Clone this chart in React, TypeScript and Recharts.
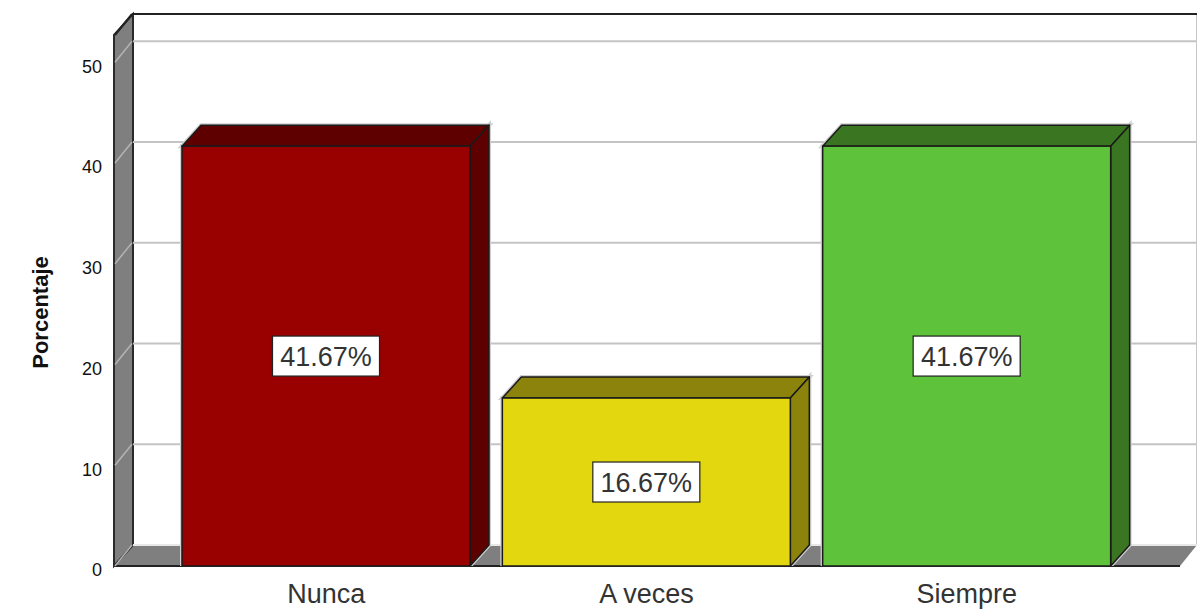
import { BarChart, Bar, XAxis, YAxis, CartesianGrid, ReferenceArea } from "recharts"

const categories = ["Nunca", "A veces", "Siempre"]
const percentages = [41.67, 16.67, 41.67]
const yTicks = [0, 10, 20, 30, 40, 50]
const yMax = 52.7

const frontColors = ["#990000", "#e3d70f", "#5fc23b"]
const darkColors = ["#5e0000", "#8b830b", "#3a7522"]

const data = categories.map((name, i) => ({ name, value: percentages[i] }))

// depth of the fake 3D effect
const DX = 19
const DY = 21
const PAD_L = 52
const PAD_R = 53
const FONT = "'Liberation Sans', Arial, sans-serif"

function Walls(props: any) {
  const { x, y, width, height } = props
  // reference area spans the category range only, add back the axis padding
  const l = x - PAD_L
  const r = x + width + PAD_R
  const t = y
  const b = y + height
  return (
    <g>
      <rect x={l + DX} y={t - DY} width={r - l - 2} height={b - t} fill="#ffffff" stroke="none" />
      <line x1={r + DX - 2} y1={t - DY} x2={r + DX - 2} y2={b - DY} stroke="#c8c8c8" strokeWidth={2} />
      <polygon
        points={`${l},${b} ${l + DX},${b - DY} ${r + DX - 2},${b - DY} ${r},${b}`}
        fill="#7f7f7f"
        stroke="none"
      />
      <line x1={l} y1={b} x2={r} y2={b} stroke="#222" strokeWidth={2} />
      <polygon
        points={`${l},${b} ${l},${t} ${l + DX},${t - DY} ${l + DX},${b - DY}`}
        fill="#7f7f7f"
        stroke="#2a2a2a"
        strokeWidth={2}
      />
    </g>
  )
}

function GridLine(props: any) {
  const { x1, y1, x2 } = props
  const isTop = props.y !== undefined && Math.abs(y1 - props.y) < 1
  const isBottom = props.y !== undefined && props.height !== undefined && Math.abs(y1 - (props.y + props.height)) < 1
  return (
    <g key={props.key}>
      <line
        x1={x1 + DX - (isTop ? 1 : 0)}
        y1={y1 - DY}
        x2={x2 + DX - (isTop ? 0 : 2)}
        y2={y1 - DY}
        stroke={isTop ? "#222" : isBottom ? "#e8e8e8" : "#c4c4c4"}
        strokeWidth={2}
      />
      <line
        x1={x1 + 1}
        y1={y1}
        x2={x1 + DX - 1}
        y2={y1 - DY}
        stroke={isTop ? "#222" : "#b4b4b4"}
        strokeWidth={isTop ? 2 : 1.5}
      />
    </g>
  )
}

function Bar3D(props: any) {
  const { x, y, width, height, index } = props
  const front = frontColors[index % frontColors.length]
  const dark = darkColors[index % darkColors.length]
  const b = y + height
  const top = `${x},${y} ${x + DX},${y - DY} ${x + width + DX},${y - DY} ${x + width},${y}`
  const side = `${x + width},${y} ${x + width + DX},${y - DY} ${x + width + DX},${b - DY} ${x + width},${b}`
  return (
    <g>
      <polygon points={top} fill="none" stroke="#cfcfcf" strokeWidth={4} />
      <polygon points={side} fill="none" stroke="#cfcfcf" strokeWidth={4} />
      <rect x={x} y={y} width={width} height={height} fill="none" stroke="#cfcfcf" strokeWidth={4} />
      <polygon points={top} fill={dark} stroke="#1a1a1a" strokeWidth={1.5} strokeLinejoin="round" />
      <polygon points={side} fill={dark} stroke="#1a1a1a" strokeWidth={1.5} strokeLinejoin="round" />
      <rect x={x} y={y} width={width} height={height} fill={front} stroke="#1a1a1a" strokeWidth={1.5} />
    </g>
  )
}

function ValueLabel(props: any) {
  const { x, y, width, height, value } = props
  const cx = x + width / 2
  const cy = y + height / 2
  const boxW = 107
  const boxH = 40
  return (
    <g>
      <rect x={cx - boxW / 2} y={cy - boxH / 2} width={boxW} height={boxH} fill="#ffffff" stroke="#222" strokeWidth={1.2} />
      <text x={cx} y={cy + 10} textAnchor="middle" fontSize={27} fontFamily={FONT} fill="#333">
        {`${Number(value).toFixed(2)}%`}
      </text>
    </g>
  )
}

function AxisTitle(props: any) {
  const { viewBox } = props
  const cx = 40
  const cy = viewBox.y + viewBox.height / 2 + 12
  return (
    <text
      x={cx}
      y={cy}
      transform={`rotate(-90 ${cx} ${cy})`}
      textAnchor="middle"
      dominantBaseline="central"
      fontSize={22}
      fontWeight="bold"
      fontFamily={FONT}
      fill="#111"
    >
      Porcentaje
    </text>
  )
}

export default function App() {
  return (
    <div style={{ position: "absolute", left: 0, top: 0, width: 1197, height: 615, background: "#fff" }}>
      <BarChart
        width={1197}
        height={615}
        data={data}
        margin={{ top: 35, right: 17, bottom: 0, left: 54 }}
        barSize={288}
      >
        <ReferenceArea y1={0} y2={yMax} ifOverflow="visible" shape={Walls} zIndex={-200} />
        <CartesianGrid vertical={false} horizontal={GridLine} zIndex={-100} />
        <XAxis
          dataKey="name"
          axisLine={false}
          tickLine={false}
          height={49}
          padding={{ left: PAD_L, right: PAD_R }}
          tickMargin={12}
          tick={{ fontSize: 27, fill: "#333", fontFamily: FONT }}
        />
        <YAxis
          width={60}
          domain={[0, yMax]}
          ticks={yTicks}
          allowDataOverflow
          axisLine={false}
          tickLine={false}
          tickSize={0}
          tickMargin={12}
          tick={{ fontSize: 18, fill: "#111", fontFamily: FONT, dy: 4 }}
          label={{ content: AxisTitle }}
        />
        <Bar dataKey="value" shape={Bar3D} label={ValueLabel} isAnimationActive={false} />
      </BarChart>
    </div>
  )
}
